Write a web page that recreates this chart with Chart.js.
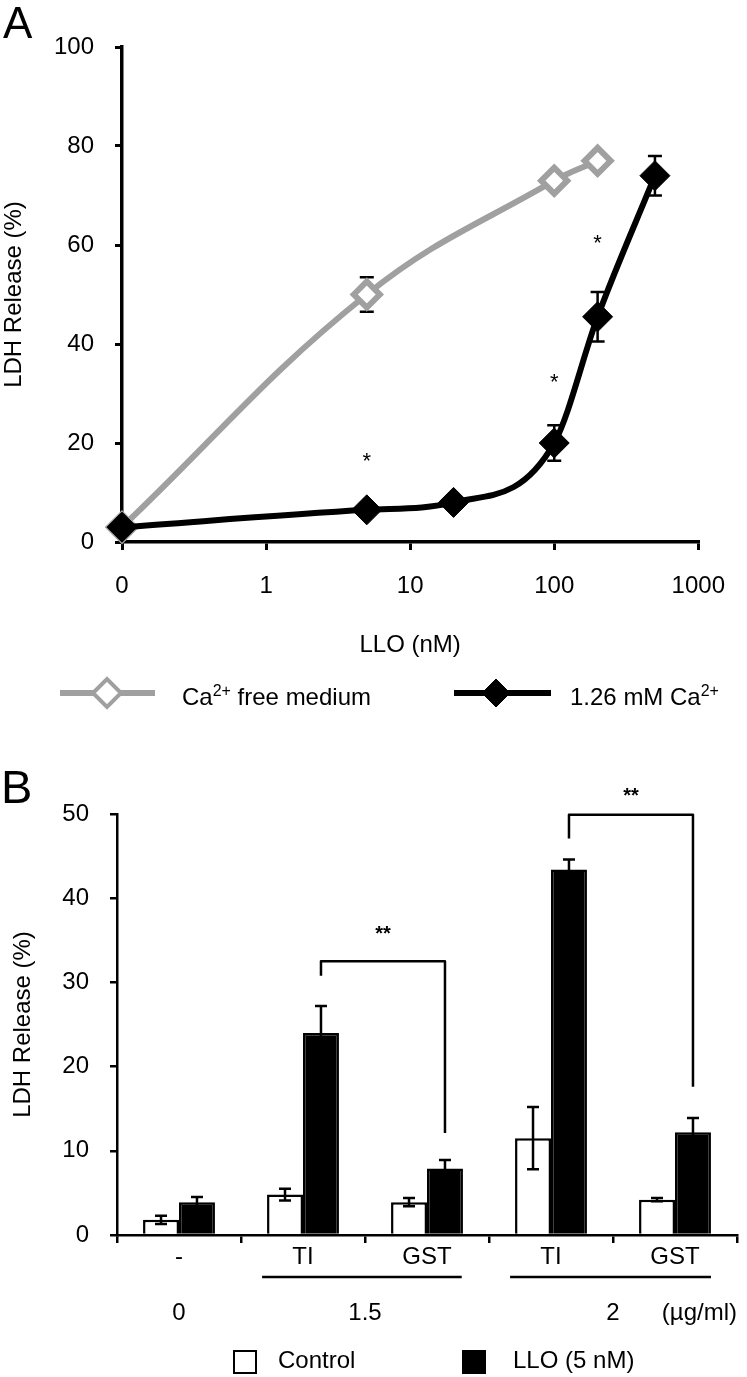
<!DOCTYPE html>
<html>
<head>
<meta charset="utf-8">
<script src="https://cdn.jsdelivr.net/npm/chart.js@4.4.1/dist/chart.umd.min.js"></script>
<style>
body { margin: 0; background: #fff; font-family: 'Liberation Sans', Arial, sans-serif; }
#page { position: relative; width: 747px; height: 1377px; overflow: hidden; background: #fff; }
canvas { position: absolute; left: 0; }
.lbl { position: absolute; line-height: 1; color: #000; white-space: nowrap; font-size: 24px; }
.lbl sup { font-size: 16px; line-height: 0; vertical-align: 9px; }
.panel { font-size: 44px; }
.box { position: absolute; width: 24px; height: 24px; box-sizing: border-box; border: 2.5px solid #000; }
svg { position: absolute; }
</style>
</head>
<body>
<div id="page">
  <canvas id="chartA" width="747" height="720" style="top:0"></canvas>
  <canvas id="chartB" width="747" height="657" style="top:720px"></canvas>

  <div class="lbl panel" style="left:3px;top:1px">A</div>
  <div class="lbl panel" style="left:1px;top:763px;font-size:47px">B</div>

  <!-- legend A -->
  <svg style="left:55px;top:673px" width="105" height="40">
    <line x1="5" y1="20" x2="100" y2="20" stroke="#a0a0a0" stroke-width="6"/>
    <path d="M38,20 L52,6 L66,20 L52,34 Z" fill="#fff" stroke="#a0a0a0" stroke-width="4"/>
  </svg>
  <div class="lbl" style="left:182px;top:685px">Ca<sup>2+</sup> free medium</div>
  <svg style="left:449px;top:673px" width="105" height="40">
    <line x1="5" y1="20" x2="102" y2="20" stroke="#000" stroke-width="6"/>
    <path d="M33,20 L47,6 L61,20 L47,34 Z" fill="#000" stroke="#000" stroke-width="1"/>
  </svg>
  <div class="lbl" style="left:570px;top:685px">1.26 mM Ca<sup>2+</sup></div>

  <!-- legend B -->
  <div class="box" style="left:233px;top:1350px;background:#fff"></div>
  <div class="lbl" style="left:278px;top:1348px">Control</div>
  <div class="box" style="left:462px;top:1350px;background:#000"></div>
  <div class="lbl" style="left:513px;top:1348px">LLO (5 nM)</div>
</div>
<script>
// panel A: LDH release vs LLO dose
const freeDose = [0, 5, 100, 200]
const freeLDH = [3, 50, 73, 77]
const freeSD = [0.5, 3.5, 1.5, 1]
const caDose = [0, 5, 20, 100, 200, 500]
const caLDH = [3, 6.5, 8, 20, 45.5, 74]
const caSD = [0.5, 1, 1, 3.6, 5, 4]
const starDose = [5, 100, 200]
const starLDH = [17, 33, 61]
const doseTicks = [0, 1, 10, 100, 1000]

// panel B: bars
const treatments = ['-', 'TI', 'GST', 'TI', 'GST']
const controlLDH = [1.8, 4.8, 3.9, 11.5, 4.2]
const controlSD = [0.5, 0.7, 0.5, 3.7, 0.2]
const lloLDH = [3.9, 24.0, 7.9, 43.4, 12.2]
const lloSD = [0.6, 3.2, 1.0, 1.2, 1.7]
const doseGroups = ['0', '1.5', '2']
const bracketFrom = [1, 3]
const bracketTo = [2, 4]
const bracketTop = [32.5, 49.9]
const bracketLeftEnd = [30.8, 47.1]
const bracketRightEnd = [12.1, 17.6]
const bracketStar = [36.2, 52.5]

const FONT = "'Liberation Sans', Arial, sans-serif"
Chart.defaults.font.family = FONT
Chart.defaults.color = '#000'

// zero dose sits one decade left of 1 on the log axis
const ZERO_AT = 0.1
const dosePos = d => d === 0 ? ZERO_AT : d
const GRAY = '#a0a0a0'

const errorBarsA = {
    id: 'errorBarsA',
    beforeDatasetsDraw(chart) {
        const {ctx, scales: {x, y}} = chart
        ctx.save()
        ctx.strokeStyle = '#000'
        ctx.lineWidth = 2.5
        ;[[freeDose, freeLDH, freeSD], [caDose, caLDH, caSD]].forEach(([d, v, e]) => {
            d.forEach((dose, i) => {
                const px = x.getPixelForValue(dosePos(dose))
                const top = y.getPixelForValue(v[i] + e[i])
                const bot = y.getPixelForValue(v[i] - e[i])
                ctx.beginPath()
                ctx.moveTo(px, top); ctx.lineTo(px, bot)
                ctx.moveTo(px - 7, top); ctx.lineTo(px + 7, top)
                ctx.moveTo(px - 7, bot); ctx.lineTo(px + 7, bot)
                ctx.stroke()
            })
        })
        ctx.restore()
    },
    afterDatasetsDraw(chart) {
        const {ctx, scales: {x, y}} = chart
        ctx.save()
        ctx.font = '22px ' + FONT
        ctx.textAlign = 'center'
        ctx.textBaseline = 'middle'
        starDose.forEach((d, i) => {
            ctx.fillText('*', x.getPixelForValue(d), y.getPixelForValue(starLDH[i]) + 4)
        })
        ctx.restore()
    }
}

new Chart(document.getElementById('chartA'), {
    type: 'line',
    data: {
        datasets: [
            {
                label: 'Ca2+ free medium',
                data: freeDose.map((d, i) => ({x: dosePos(d), y: freeLDH[i]})),
                borderColor: GRAY,
                borderWidth: 6,
                tension: 0.4,
                pointStyle: 'rectRot',
                pointRadius: 13,
                pointBorderWidth: 6,
                pointBackgroundColor: '#fff',
                pointBorderColor: GRAY,
                clip: false,
                order: 2
            },
            {
                label: '1.26 mM Ca2+',
                data: caDose.map((d, i) => ({x: dosePos(d), y: caLDH[i]})),
                borderColor: '#000',
                borderWidth: 6,
                cubicInterpolationMode: 'monotone',
                pointStyle: 'rectRot',
                pointRadius: 15,
                pointBorderWidth: 1,
                pointBackgroundColor: '#000',
                pointBorderColor: '#000',
                clip: false,
                order: 1
            }
        ]
    },
    options: {
        responsive: false,
        animation: false,
        devicePixelRatio: 1,
        events: [],
        layout: {padding: {top: 47, right: 31, left: 0, bottom: 58}},
        plugins: {legend: {display: false}, tooltip: {enabled: false}},
        scales: {
            x: {
                type: 'logarithmic',
                min: ZERO_AT,
                max: 1000,
                afterBuildTicks: s => { s.ticks = doseTicks.map(v => ({value: dosePos(v)})) },
                afterFit: s => { s.height = 120 },
                ticks: {
                    font: {size: 24},
                    padding: 22,
                    maxRotation: 0,
                    callback: v => v === ZERO_AT ? '0' : String(v)
                },
                grid: {drawOnChartArea: false, tickLength: 8, color: '#000', lineWidth: 3},
                border: {color: '#000', width: 3.5},
                title: {display: true, text: 'LLO (nM)', font: {size: 24}, padding: {top: 0, bottom: 2}}
            },
            y: {
                min: 0,
                max: 100,
                afterFit: s => { s.width = 122 },
                ticks: {stepSize: 20, font: {size: 24}, padding: 21},
                grid: {drawOnChartArea: false, tickLength: 7, color: '#000', lineWidth: 3},
                border: {color: '#000', width: 3.5},
                title: {display: true, text: 'LDH Release (%)', font: {size: 24}, padding: {top: 0, bottom: 0}}
            }
        }
    },
    plugins: [errorBarsA]
})

const annotateB = {
    id: 'annotateB',
    afterDatasetsDraw(chart) {
        const {ctx, scales: {x, y}} = chart
        ctx.save()
        ctx.strokeStyle = '#000'
        ctx.lineWidth = 2.5
        // error bars
        ;[[controlLDH, controlSD], [lloLDH, lloSD]].forEach(([v, e], ds) => {
            const meta = chart.getDatasetMeta(ds)
            v.forEach((val, i) => {
                const px = meta.data[i].x
                const top = y.getPixelForValue(val + e[i])
                const bot = y.getPixelForValue(val - e[i])
                ctx.beginPath()
                ctx.moveTo(px, top); ctx.lineTo(px, bot)
                ctx.moveTo(px - 6, top); ctx.lineTo(px + 6, top)
                ctx.moveTo(px - 6, bot); ctx.lineTo(px + 6, bot)
                ctx.stroke()
            })
        })
        // significance brackets
        const llo = chart.getDatasetMeta(1)
        ctx.lineJoin = 'round'
        ctx.font = 'bold 20px ' + FONT
        ctx.fillStyle = '#000'
        ctx.textAlign = 'center'
        ctx.textBaseline = 'middle'
        bracketFrom.forEach((a, k) => {
            const xa = llo.data[a].x
            const xb = llo.data[bracketTo[k]].x
            const yt = y.getPixelForValue(bracketTop[k])
            ctx.beginPath()
            ctx.moveTo(xa, y.getPixelForValue(bracketLeftEnd[k]))
            ctx.lineTo(xa, yt)
            ctx.lineTo(xb, yt)
            ctx.lineTo(xb, y.getPixelForValue(bracketRightEnd[k]))
            ctx.stroke()
            ctx.fillText('**', (xa + xb) / 2, y.getPixelForValue(bracketStar[k]) + 4)
        })
        ctx.restore()
    },
    afterDraw(chart) {
        const {ctx, scales: {x, y}} = chart
        const base = y.getPixelForValue(0)
        ctx.save()
        ctx.strokeStyle = '#000'
        ctx.lineWidth = 2.5
        // concentration underlines
        ;[[0.67, 2.28], [2.67, 4.29]].forEach(([a, b]) => {
            ctx.beginPath()
            ctx.moveTo(x.getPixelForValue(a), base + 42)
            ctx.lineTo(x.getPixelForValue(b), base + 42)
            ctx.stroke()
        })
        ctx.font = '24px ' + FONT
        ctx.fillStyle = '#000'
        ctx.textBaseline = 'middle'
        ctx.textAlign = 'center'
        ;[0, 1.5, 3.5].forEach((at, i) => {
            ctx.fillText(doseGroups[i], x.getPixelForValue(at), base + 78)
        })
        ctx.textAlign = 'right'
        ctx.fillText('(\u00b5g/ml)', x.right, base + 78)
        ctx.restore()
    }
}

new Chart(document.getElementById('chartB'), {
    type: 'bar',
    data: {
        labels: treatments,
        datasets: [
            {
                label: 'Control',
                data: controlLDH,
                backgroundColor: '#fff',
                borderColor: '#000',
                borderWidth: 2.5,
                barPercentage: 1,
                categoryPercentage: 0.58
            },
            {
                label: 'LLO (5 nM)',
                data: lloLDH,
                backgroundColor: '#000',
                borderColor: '#000',
                borderWidth: 2.5,
                barPercentage: 1,
                categoryPercentage: 0.58
            }
        ]
    },
    options: {
        responsive: false,
        animation: false,
        devicePixelRatio: 1,
        events: [],
        layout: {padding: {top: 94, right: 10, left: 0, bottom: 42}},
        plugins: {legend: {display: false}, tooltip: {enabled: false}},
        scales: {
            x: {
                afterFit: s => { s.height = 100 },
                ticks: {font: {size: 24}, padding: 0, maxRotation: 0},
                grid: {offset: true, drawOnChartArea: false, tickLength: 8, color: '#000', lineWidth: 2.5},
                border: {color: '#000', width: 2.5}
            },
            y: {
                min: 0,
                max: 50,
                afterFit: s => { s.width = 117 },
                ticks: {stepSize: 10, font: {size: 24}, padding: 21},
                grid: {drawOnChartArea: false, tickLength: 7, color: '#000', lineWidth: 2.5},
                border: {color: '#000', width: 2.5},
                title: {display: true, text: 'LDH Release (%)', font: {size: 24}, padding: {top: 9, bottom: 0}}
            }
        }
    },
    plugins: [annotateB]
})
</script>
</body>
</html>
